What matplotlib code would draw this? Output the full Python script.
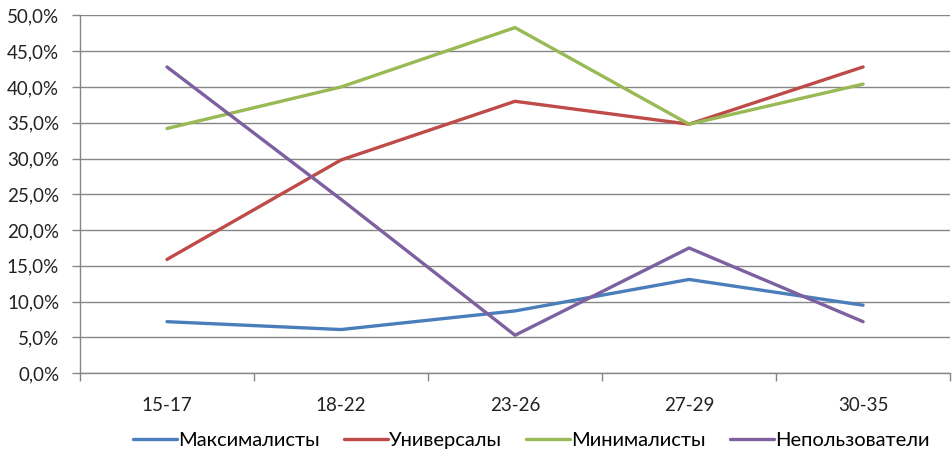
import matplotlib
matplotlib.use("Agg")
import matplotlib.pyplot as plt
from matplotlib.ticker import FuncFormatter, FixedLocator

plt.rcParams['font.family'] = ['Lato', 'DejaVu Sans']

ages = ["15-17", "18-22", "23-26", "27-29", "30-35"]
maksimalisty = [7.2, 6.1, 8.7, 13.1, 9.5]
universaly = [15.9, 29.8, 38.0, 34.8, 42.8]
minimalisty = [34.2, 40.0, 48.3, 34.8, 40.4]
nepolzovateli = [42.8, 24.3, 5.3, 17.5, 7.2]

series = [
    ("Максималисты", maksimalisty, "#4A7EBB"),
    ("Универсалы", universaly, "#BE4B48"),
    ("Минималисты", minimalisty, "#98B954"),
    ("Непользователи", nepolzovateli, "#7D60A0"),
]

fig = plt.figure(figsize=(9.52, 4.54), dpi=100, facecolor='white')
ax = fig.add_axes([0.084, 0.178, 0.914, 0.788])

x = list(range(len(ages)))
for name, vals, col in series:
    ax.plot(x, vals, color=col, linewidth=2.4, label=name, solid_capstyle='round')

ax.set_xlim(-0.5, len(ages) - 0.5)
ax.set_ylim(0, 50)
ax.set_yticks(range(0, 51, 5))
ax.yaxis.set_major_formatter(FuncFormatter(lambda v, p: ("%.1f%%" % v).replace('.', ',')))
ax.set_xticks(x)
ax.set_xticklabels(ages)
ax.xaxis.set_minor_locator(FixedLocator([i - 0.5 for i in range(len(ages) + 1)]))
ax.tick_params(axis='x', which='major', length=0, pad=17, labelsize=13.5, colors='#222222')
ax.tick_params(axis='x', which='minor', length=6, color='#868686', width=1)
ax.tick_params(axis='y', length=6, color='#868686', width=1, labelsize=13.5, labelcolor='#222222', pad=9)

ax.grid(True, axis='y', color='#868686', linewidth=1)
ax.set_axisbelow(True)
for s in ['top', 'right']:
    ax.spines[s].set_visible(False)
for s in ['left', 'bottom']:
    ax.spines[s].set_color('#868686')
    ax.spines[s].set_linewidth(1)

fig.legend(loc='lower center', bbox_to_anchor=(0.558, -0.03), ncol=4, frameon=False,
           fontsize=14.5, handlelength=2.2, handletextpad=0.05, columnspacing=1.2)

fig.savefig("out.png", dpi=100, facecolor='white')
